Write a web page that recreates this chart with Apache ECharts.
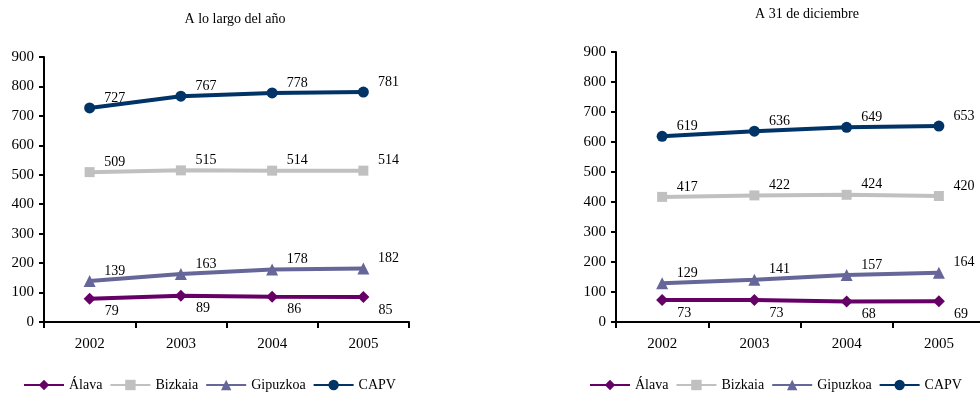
<!DOCTYPE html>
<html><head><meta charset="utf-8">
<script src="https://cdn.jsdelivr.net/npm/echarts@6/dist/echarts.min.js"></script>
<style>html,body{margin:0;padding:0;background:#fff;overflow:hidden;width:980px;height:394px}#c{width:990px;height:394px}</style>
</head><body><div id="c"></div>
<script>
const years = ['2002','2003','2004','2005'];
const yTicks = [0,100,200,300,400,500,600,700,800,900];
const seriesNames = ['Álava','Bizkaia','Gipuzkoa','CAPV'];
// A lo largo del año
const alavaYear = [79, 89, 86, 85];
const bizkaiaYear = [509, 515, 514, 514];
const gipuzkoaYear = [139, 163, 178, 182];
const capvYear = [727, 767, 778, 781];
// A 31 de diciembre
const alavaDec = [73, 73, 68, 69];
const bizkaiaDec = [417, 422, 424, 420];
const gipuzkoaDec = [129, 141, 157, 164];
const capvDec = [619, 636, 649, 653];

const colors = {'Álava':'#660066','Bizkaia':'#c0c0c0','Gipuzkoa':'#666699','CAPV':'#003366'};
const symbols = {'Álava':'diamond','Bizkaia':'rect','Gipuzkoa':'triangle','CAPV':'circle'};
const symSize = {'Álava':12,'Bizkaia':10,'Gipuzkoa':12,'CAPV':11};
const FONT = '"Liberation Serif", "Times New Roman", serif';

function mk(name, data, idx, off) {
  return {
    name, type:'line', data, xAxisIndex:idx, yAxisIndex:idx,
    symbol:symbols[name], symbolSize:symSize[name],
    lineStyle:{color:colors[name], width:4},
    itemStyle:{color:colors[name]},
    label:{show:true, position:'inside', offset:off, color:'#000',
           fontFamily:FONT, fontSize:14},
    animation:false, z: 3
  };
}
const up = [25,-10], down = [22,13];
const series = [
  mk('Álava', alavaYear, 0, down),
  mk('Bizkaia', bizkaiaYear, 0, up),
  mk('Gipuzkoa', gipuzkoaYear, 0, up),
  mk('CAPV', capvYear, 0, up),
  mk('Álava', alavaDec, 1, down),
  mk('Bizkaia', bizkaiaDec, 1, up),
  mk('Gipuzkoa', gipuzkoaDec, 1, up),
  mk('CAPV', capvDec, 1, up)
];
function xAx(gi){return {type:'category', gridIndex:gi, data:years, boundaryGap:true,
  axisLine:{lineStyle:{color:'#000',width:2}}, axisTick:{show:true,length:6,lineStyle:{color:'#000',width:2}},
  axisLabel:{color:'#000',fontFamily:FONT,fontSize:15,margin:15}};}
function yAx(gi){return {type:'value', gridIndex:gi, min:yTicks[0], max:yTicks[yTicks.length-1], interval:100,
  axisLine:{show:true,lineStyle:{color:'#000',width:2}}, axisTick:{show:true,length:5,lineStyle:{color:'#000',width:2}},
  splitLine:{show:false}, axisLabel:{color:'#000',fontFamily:FONT,fontSize:15,margin:10}};}
const legendBase = {data:seriesNames, itemWidth:40, itemHeight:13, itemGap:7, width:420,
  textStyle:{fontFamily:FONT,fontSize:14,color:'#000'}};
const chart = echarts.init(document.getElementById('c'), null, {renderer:'canvas'});
chart.setOption({
  backgroundColor:'#fff',
  animation:false,
  title:[
    {text:'A lo largo del año', left:230, top:7, textAlign:'center', textStyle:{fontFamily:FONT,fontSize:14,fontWeight:'normal',color:'#000'}},
    {text:'A 31 de diciembre', left:802, top:2, textAlign:'center', textStyle:{fontFamily:FONT,fontSize:14,fontWeight:'normal',color:'#000'}}
  ],
  grid:[
    {left:44, top:57, width:365, height:265},
    {left:616, top:52, width:369, height:270}
  ],
  xAxis:[xAx(0), xAx(1)],
  yAxis:[yAx(0), yAx(1)],
  legend:[
    Object.assign({}, legendBase, {left:18, top:373}),
    Object.assign({}, legendBase, {left:584, top:373})
  ],
  series
});
</script></body></html>
